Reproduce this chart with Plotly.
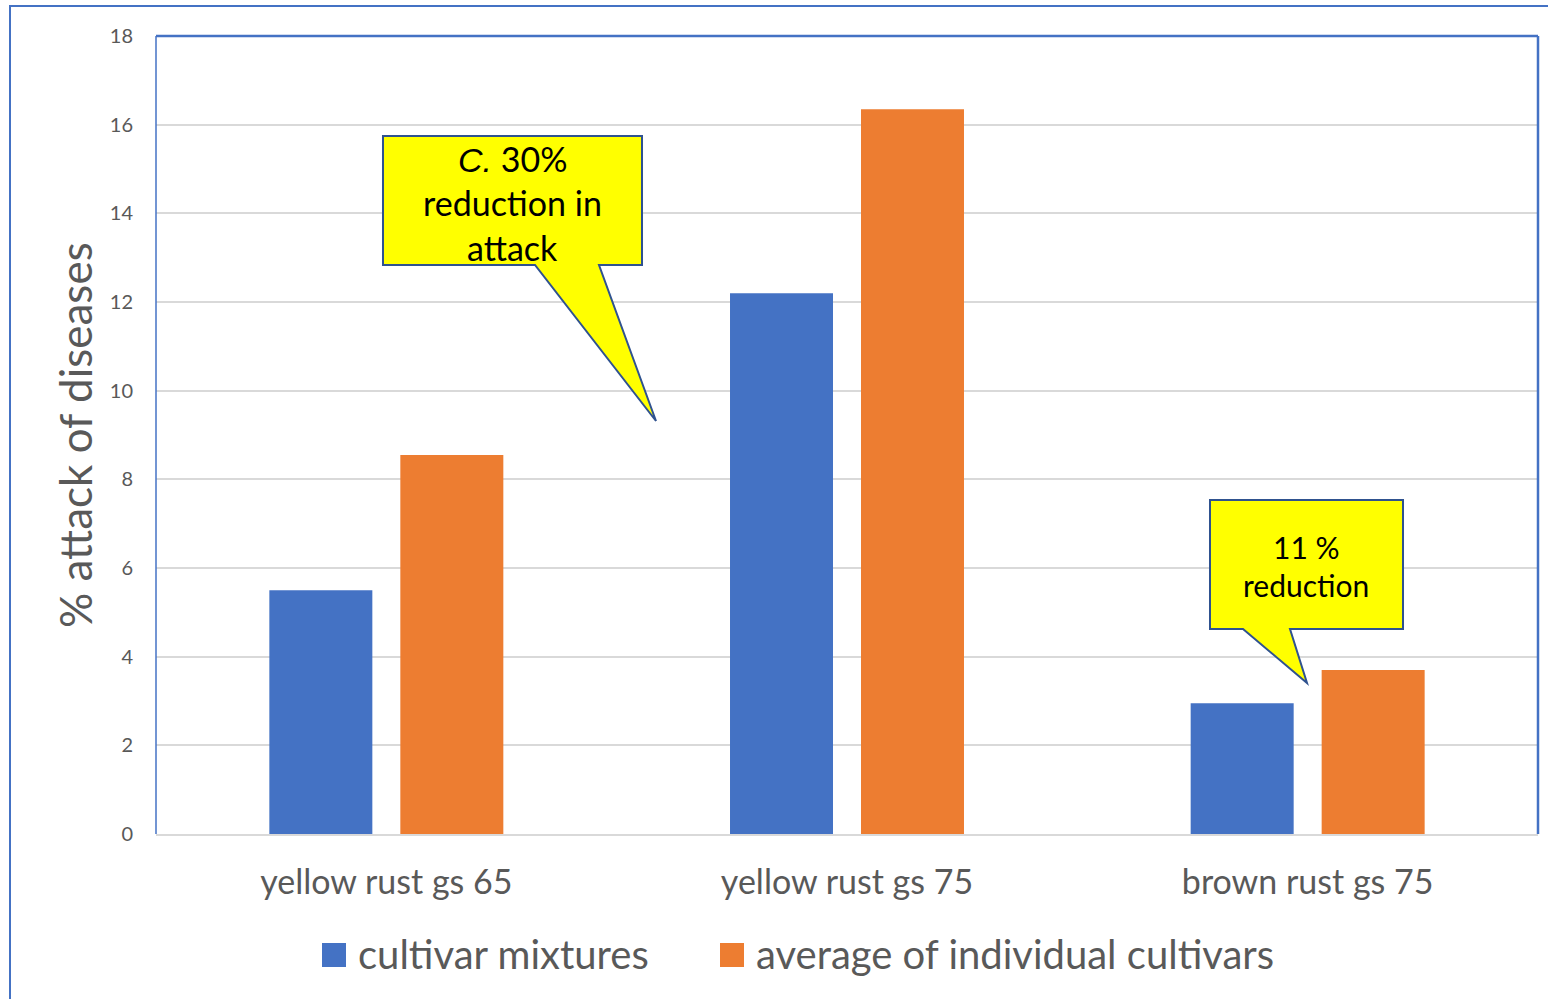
import plotly.graph_objects as go

# ---- data ----
categories = ["yellow rust gs 65", "yellow rust gs 75", "brown rust gs 75"]
series_names = ["cultivar mixtures", "average of individual cultivars"]
mixtures = [5.5, 12.2, 2.95]
individual = [8.55, 16.35, 3.7]
y_ticks = [0, 2, 4, 6, 8, 10, 12, 14, 16, 18]
callout1_lines = ["<span style=\"font-family:'Liberation Sans';font-style:italic\">C.</span> 30%",
                  "reduction in", "attack"]
callout2_lines = ["11 %", "reduction"]

BLUE = "#4472C4"
ORANGE = "#ED7D31"
GRID = "#D9D9D9"
TEXT = "#595959"
FONT = "Lato, 'Open Sans', sans-serif"

W, H = 1548, 999
L, R, T, B = 156, 1538, 36, 834  # plot area in pixels


def px(x):
    return (x - L) / (R - L)


def py(y):
    return (B - y) / (B - T)


fig = go.Figure()
fig.add_trace(go.Bar(x=categories, y=mixtures, name=series_names[0],
                     marker=dict(color=BLUE, line=dict(width=0)), showlegend=False))
fig.add_trace(go.Bar(x=categories, y=individual, name=series_names[1],
                     marker=dict(color=ORANGE, line=dict(width=0)), showlegend=False))

shapes = []
annotations = []

# outer chart frame
shapes.append(dict(type="rect", xref="paper", yref="paper",
                   x0=px(10), x1=px(1560), y0=py(6), y1=py(1020),
                   line=dict(color=BLUE, width=2), fillcolor="rgba(0,0,0,0)", layer="below"))
# plot-area frame: left, top, right
shapes.append(dict(type="line", xref="paper", yref="paper", x0=0, x1=0, y0=0, y1=1,
                   line=dict(color=BLUE, width=1.5)))
shapes.append(dict(type="line", xref="paper", yref="paper", x0=0, x1=1, y0=1, y1=1,
                   line=dict(color=BLUE, width=2.5)))
shapes.append(dict(type="line", xref="paper", yref="paper", x0=1, x1=1, y0=0, y1=1,
                   line=dict(color=BLUE, width=2.5)))


def callout(box, tail_l, tail_r, tip):
    x0, y0, x1, y1 = box
    pts = [(x0, y0), (x1, y0), (x1, y1), (tail_r, y1), tip, (tail_l, y1), (x0, y1)]
    path = "M " + " L ".join(f"{px(a):.5f},{py(b):.5f}" for a, b in pts) + " Z"
    return dict(type="path", xref="paper", yref="paper", path=path,
                fillcolor="#FFFF00", line=dict(color="#2F528F", width=2))


shapes.append(callout((383, 136, 642, 265), 535, 599, (656, 421)))
shapes.append(callout((1210, 500, 1403, 629), 1243, 1290, (1307, 683)))

for i, line in enumerate(callout1_lines):
    annotations.append(dict(xref="paper", yref="paper", x=px(512), y=py(158 + i * 44.5),
                            text=line, showarrow=False, xanchor="center", yanchor="middle",
                            font=dict(family=FONT, size=34, color="black")))
for i, line in enumerate(callout2_lines):
    annotations.append(dict(xref="paper", yref="paper", x=px(1306), y=py(547 + i * 38),
                            text=line, showarrow=False, xanchor="center", yanchor="middle",
                            font=dict(family=FONT, size=30, color="black")))

# y-axis title
annotations.append(dict(xref="paper", yref="paper", x=px(75), y=py(435), text="% attack of diseases",
                        textangle=-90, showarrow=False, xanchor="center", yanchor="middle",
                        font=dict(family=FONT, size=44, color=TEXT)))

# legend drawn as swatches + labels
legend_items = [(322, series_names[0], BLUE), (720, series_names[1], ORANGE)]
for x0, name, col in legend_items:
    shapes.append(dict(type="rect", xref="paper", yref="paper",
                       x0=px(x0), x1=px(x0 + 24), y0=py(943), y1=py(967),
                       fillcolor=col, line=dict(width=0)))
    annotations.append(dict(xref="paper", yref="paper", x=px(x0 + 34), y=py(954), text=name,
                            showarrow=False, xanchor="left", yanchor="middle",
                            font=dict(family=FONT, size=40, color=TEXT)))

fig.update_layout(
    width=W, height=H,
    margin=dict(l=L, r=W - R, t=T, b=H - B),
    paper_bgcolor="white", plot_bgcolor="white",
    barmode="group", bargap=0.4313, bargroupgap=0.2137,
    font=dict(family=FONT, color=TEXT),
    shapes=shapes, annotations=annotations,
    showlegend=False,
)
fig.update_xaxes(showline=True, linecolor=GRID, linewidth=2, showgrid=False,
                 tickfont=dict(family=FONT, size=34, color=TEXT), ticks="",
                 ticklabelstandoff=17)
fig.update_yaxes(range=[0, 18], tickvals=y_ticks, showgrid=True, gridcolor=GRID, gridwidth=1.5,
                 zeroline=False, showline=False, ticks="",
                 tickfont=dict(family=FONT, size=20, color=TEXT), ticklabelstandoff=22)

fig.write_html("out.html")
